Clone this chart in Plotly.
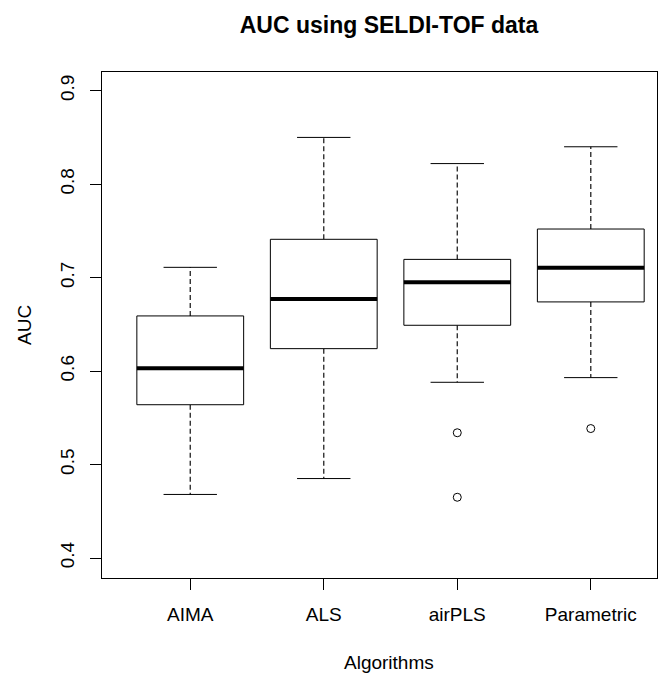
import plotly.graph_objects as go

# AUC summary per baseline-correction algorithm (SELDI-TOF data)
categories = ["AIMA", "ALS", "airPLS", "Parametric"]
upper_whisker = [0.711, 0.850, 0.822, 0.840]
q3 = [0.659, 0.741, 0.7195, 0.752]
median = [0.603, 0.677, 0.695, 0.7105]
q1 = [0.564, 0.624, 0.649, 0.674]
lower_whisker = [0.468, 0.485, 0.588, 0.593]
outliers = [[], [], [0.534, 0.465], [0.5385]]

y_ticks = [0.4, 0.5, 0.6, 0.7, 0.8, 0.9]

FONT = "Liberation Sans, Arial, sans-serif"
BOX_HALF = 0.4
CAP_HALF = 0.2

fig = go.Figure()
positions = list(range(1, len(categories) + 1))

for i, c in enumerate(positions):
    # dashed whiskers
    fig.add_trace(go.Scatter(
        x=[c, c, None, c, c],
        y=[q3[i], upper_whisker[i], None, q1[i], lower_whisker[i]],
        mode="lines", line=dict(color="#222222", width=1.3, dash="5px,3px"),
        hoverinfo="skip", showlegend=False))
    # whisker caps
    fig.add_trace(go.Scatter(
        x=[c - CAP_HALF, c + CAP_HALF, None, c - CAP_HALF, c + CAP_HALF],
        y=[upper_whisker[i], upper_whisker[i], None, lower_whisker[i], lower_whisker[i]],
        mode="lines", line=dict(color="black", width=1),
        hoverinfo="skip", showlegend=False))
    # box
    fig.add_trace(go.Scatter(
        x=[c - BOX_HALF, c + BOX_HALF, c + BOX_HALF, c - BOX_HALF, c - BOX_HALF],
        y=[q1[i], q1[i], q3[i], q3[i], q1[i]],
        mode="lines", line=dict(color="black", width=1),
        fill="toself", fillcolor="white",
        hoverinfo="skip", showlegend=False))
    # median
    fig.add_trace(go.Scatter(
        x=[c - BOX_HALF, c + BOX_HALF],
        y=[median[i], median[i]],
        mode="lines", line=dict(color="black", width=4),
        hoverinfo="skip", showlegend=False))
    # outliers
    if outliers[i]:
        fig.add_trace(go.Scatter(
            x=[c] * len(outliers[i]), y=outliers[i],
            mode="markers",
            marker=dict(symbol="circle-open", size=8, color="black", line=dict(width=1)),
            hoverinfo="skip", showlegend=False))

fig.update_layout(
    width=669, height=673,
    margin=dict(l=102, r=12, t=72, b=95),
    paper_bgcolor="white", plot_bgcolor="white",
    font=dict(family=FONT, size=19, color="black"),
    title=dict(text="<b>AUC using SELDI-TOF data</b>",
               font=dict(family=FONT, size=23, color="black"),
               x=389 / 669, xanchor="center",
               y=1 - 25 / 673, yanchor="middle", xref="container", yref="container"),
    xaxis=dict(range=[0.339, 4.496], tickvals=positions, ticktext=categories,
               showgrid=False, zeroline=False,
               showline=True, mirror=True, linecolor="black", linewidth=1,
               ticks="outside", ticklen=11, tickcolor="black", tickwidth=1,
               tickfont=dict(family=FONT, size=19), ticklabelstandoff=8),
    yaxis=dict(range=[0.3786, 0.92], tickvals=y_ticks,
               ticktext=[f"{v:.1f}" for v in y_ticks],
               tickangle=-90,
               showgrid=False, zeroline=False,
               showline=True, mirror=True, linecolor="black", linewidth=1,
               ticks="outside", ticklen=11, tickcolor="black", tickwidth=1,
               tickfont=dict(family=FONT, size=19), ticklabelstandoff=8),
    annotations=[
        dict(text="Algorithms", xref="paper", yref="paper",
             x=(389 - 101.7) / (657 - 101.7), y=0, yshift=-84,
             xanchor="center", yanchor="middle", showarrow=False,
             font=dict(family=FONT, size=19, color="black")),
        dict(text="AUC", xref="paper", yref="paper",
             x=0, xshift=-78, y=0.5, textangle=-90,
             xanchor="center", yanchor="middle", showarrow=False,
             font=dict(family=FONT, size=19, color="black")),
    ],
)

fig.write_html("out.html")
